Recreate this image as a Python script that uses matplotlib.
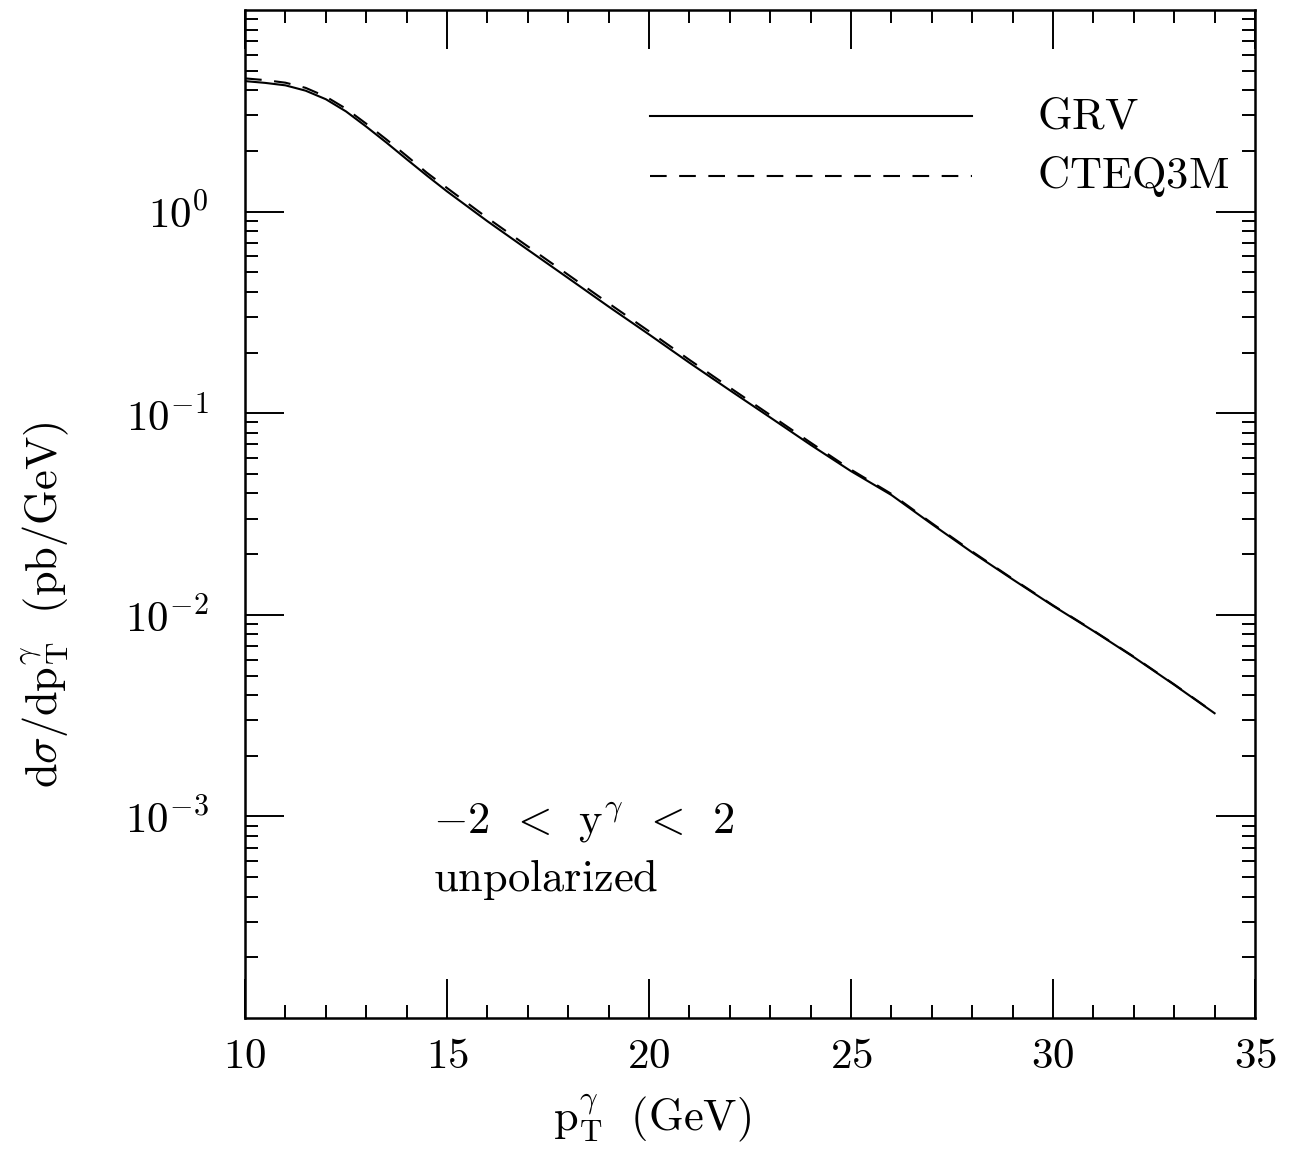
import numpy as np
import matplotlib
matplotlib.use("Agg")
import matplotlib.pyplot as plt
from matplotlib.ticker import FixedLocator, LogLocator, MultipleLocator, FuncFormatter, NullFormatter

plt.rcParams['mathtext.fontset'] = 'cm'

# p_T^gamma (GeV)
pt = [10, 10.5, 11, 11.5, 12, 12.5, 13, 13.5, 14, 14.5, 15, 16, 17, 18, 19, 20, 21, 22,
      23, 24, 25, 26, 27, 28, 29, 30, 31, 32, 33, 34]

# d sigma / d p_T (pb/GeV)
grv = [4.44, 4.35, 4.23, 3.98, 3.61, 3.14, 2.64, 2.20, 1.82, 1.51, 1.26,
       0.896, 0.647, 0.468, 0.338, 0.246, 0.178, 0.130, 0.0953, 0.0697,
       0.0516, 0.0393, 0.0282, 0.0204, 0.0150, 0.01109, 0.00832, 0.00617,
       0.00450, 0.00325]
cteq = [4.58, 4.49, 4.36, 4.11, 3.72, 3.24, 2.73, 2.28, 1.89, 1.56, 1.31,
        0.930, 0.672, 0.486, 0.351, 0.255, 0.184, 0.134, 0.0980, 0.0715,
        0.0525, 0.0398, 0.0285, 0.0206, 0.0151, 0.01115, 0.00836, 0.00620,
        0.00452, 0.00326]

fig = plt.figure(figsize=(12.91, 11.51), dpi=100)
ax = fig.add_axes([0.1898, 0.1155, 0.7823, 0.8758])

ax.plot(pt, grv, color='black', lw=1.5)
ax.plot(pt, cteq, color='black', lw=1.5, dashes=(8, 6))

ax.set_yscale('log')
ax.set_xlim(10, 35)
ax.set_ylim(1e-4, 10)

ax.xaxis.set_major_locator(MultipleLocator(5))
ax.xaxis.set_minor_locator(MultipleLocator(1))
ax.xaxis.set_major_formatter(FuncFormatter(lambda v, _: r"$%d$" % v))

ax.yaxis.set_major_locator(FixedLocator([1e-3, 1e-2, 1e-1, 1.0]))
ax.yaxis.set_minor_locator(LogLocator(base=10, subs=np.arange(2, 10)))
ax.yaxis.set_major_formatter(FuncFormatter(lambda v, _: r"$10^{%d}$" % round(np.log10(v))))
ax.yaxis.set_minor_formatter(NullFormatter())

ax.tick_params(which='both', direction='in', top=True, right=True, width=1.4, colors='black')
ax.tick_params(which='major', length=28, labelsize=31)
ax.tick_params(which='minor', length=9.5)
ax.tick_params(axis='x', which='major', pad=12)
ax.tick_params(axis='y', which='major', pad=26)
for s in ax.spines.values():
    s.set_linewidth(1.8)

# legend
ax.plot([0.401, 0.720], [0.8948, 0.8948], transform=ax.transAxes, color='black', lw=1.5)
ax.plot([0.401, 0.720], [0.8353, 0.8353], transform=ax.transAxes, color='black', lw=1.5, dashes=(8, 6))
ax.text(0.784, 0.8948, r"$\mathrm{GRV}$", transform=ax.transAxes, fontsize=32, va='center')
ax.text(0.784, 0.8353, r"$\mathrm{CTEQ3M}$", transform=ax.transAxes, fontsize=32, va='center')

ax.text(0.186, 0.1935, r"$-2\ \,<\ \,\mathrm{y}^{\gamma}\ \,<\ \,2$", transform=ax.transAxes, fontsize=32, va='center')
ax.text(0.186, 0.137, r"$\mathrm{unpolarized}$", transform=ax.transAxes, fontsize=32, va='center')

fig.text(0.505, 1 - 1118 / 1151, r"$\mathrm{p}_{\mathrm{T}}^{\gamma}\ \ (\mathrm{GeV})$",
         fontsize=32, ha='center', va='center')
fig.text(45 / 1291, 1 - 605 / 1151, r"$\mathrm{d}\sigma/\mathrm{dp}_{\mathrm{T}}^{\gamma}\ \ (\mathrm{pb/GeV})$",
         fontsize=32, ha='center', va='center', rotation=90)

fig.savefig("out.png", dpi=100)
